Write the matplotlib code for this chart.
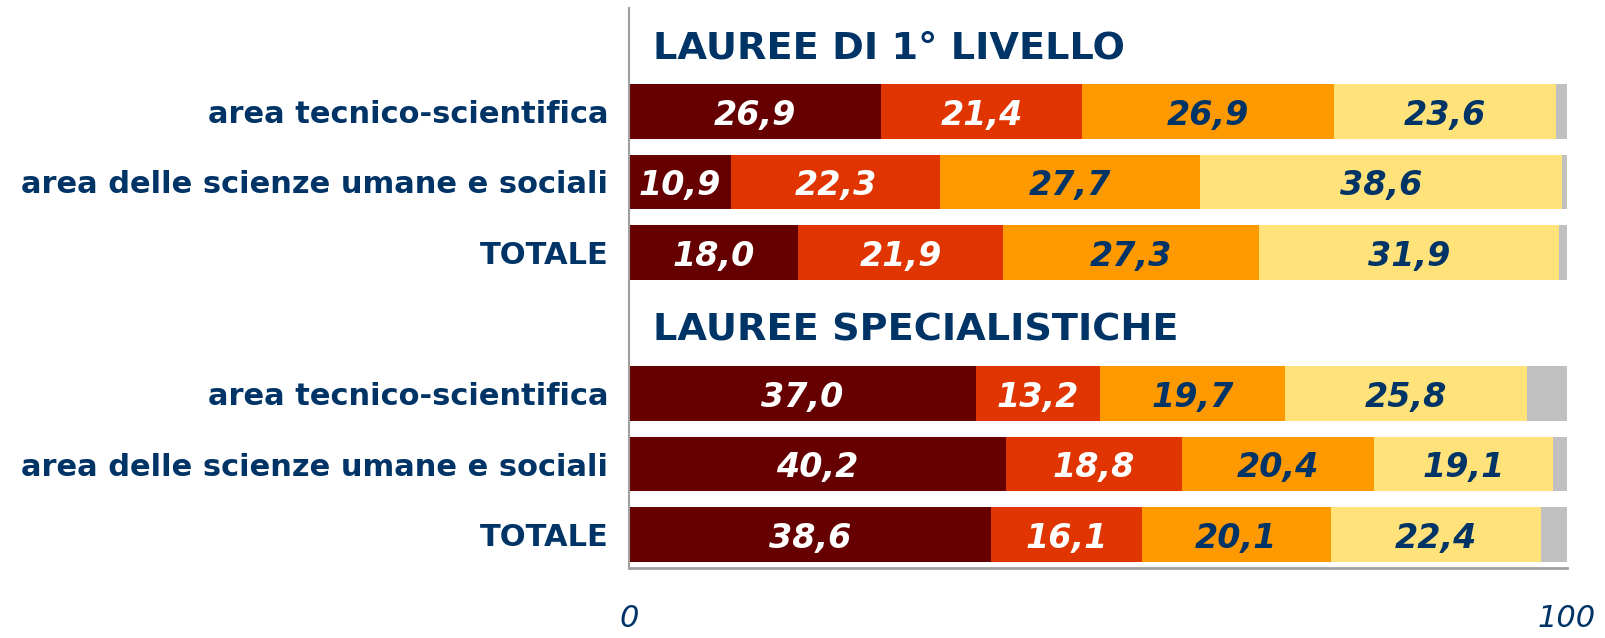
import matplotlib
matplotlib.use("Agg")
import matplotlib.pyplot as plt
import numpy as np

categories = ["area tecnico-scientifica", "area delle scienze umane e sociali", "TOTALE",
              "area tecnico-scientifica", "area delle scienze umane e sociali", "TOTALE"]
group_titles = ["LAUREE DI 1° LIVELLO", "LAUREE SPECIALISTICHE"]
s1 = [26.9, 10.9, 18.0, 37.0, 40.2, 38.6]
s2 = [21.4, 22.3, 21.9, 13.2, 18.8, 16.1]
s3 = [26.9, 27.7, 27.3, 19.7, 20.4, 20.1]
s4 = [23.6, 38.6, 31.9, 25.8, 19.1, 22.4]
s5 = [1.2, 0.5, 0.9, 4.3, 1.5, 2.8]
tick_labels = ["0", "100"]

colors = ["#660000", "#E03500", "#FF9900", "#FFE27A", "#C0C0C0"]
text_colors = ["white", "white", "#003366", "#003366", None]
navy = "#003366"

fig = plt.figure(figsize=(16.06, 6.38), dpi=100)
ax = fig.add_axes([629/1606, 1-568/638, (1567-629)/1606, (568-8)/638])

slots = [1, 2, 3, 5, 6, 7]
title_slots = [0, 4]
series = [s1, s2, s3, s4, s5]
left = np.zeros(len(slots))
for vals, c, tc in zip(series, colors, text_colors):
    v = np.array(vals)
    ax.barh(slots, v, left=left, height=0.77, color=c, edgecolor="none")
    if tc is not None:
        for y, l, w in zip(slots, left, v):
            ax.text(l + w/2, y + 0.05, f"{w:.1f}".replace(".", ","), ha="center", va="center",
                    color=tc, fontsize=24, fontweight="bold", fontstyle="italic")
    left += v

for s, t in zip(title_slots, group_titles):
    ax.text(2.6, s + 0.1, t, ha="left", va="center", color=navy, fontsize=27.5, fontweight="bold")

ax.set_xlim(0, 100)
ax.set_ylim(7.475, -0.468)
ax.set_yticks(slots)
ax.set_yticklabels(categories, fontsize=22, fontweight="bold", color=navy)
ax.tick_params(axis="y", length=0, pad=15)
ax.set_xticks([0, 100])
ax.set_xticklabels(tick_labels, fontsize=22, fontstyle="italic", color=navy)
ax.tick_params(axis="x", length=0, pad=26)
for sp in ["top", "right"]:
    ax.spines[sp].set_visible(False)
ax.spines["left"].set_color("#A0A0A0")
ax.spines["bottom"].set_color("#A0A0A0")
ax.spines["left"].set_linewidth(1.5)
ax.spines["bottom"].set_linewidth(2)

fig.savefig("out.png", dpi=100)
